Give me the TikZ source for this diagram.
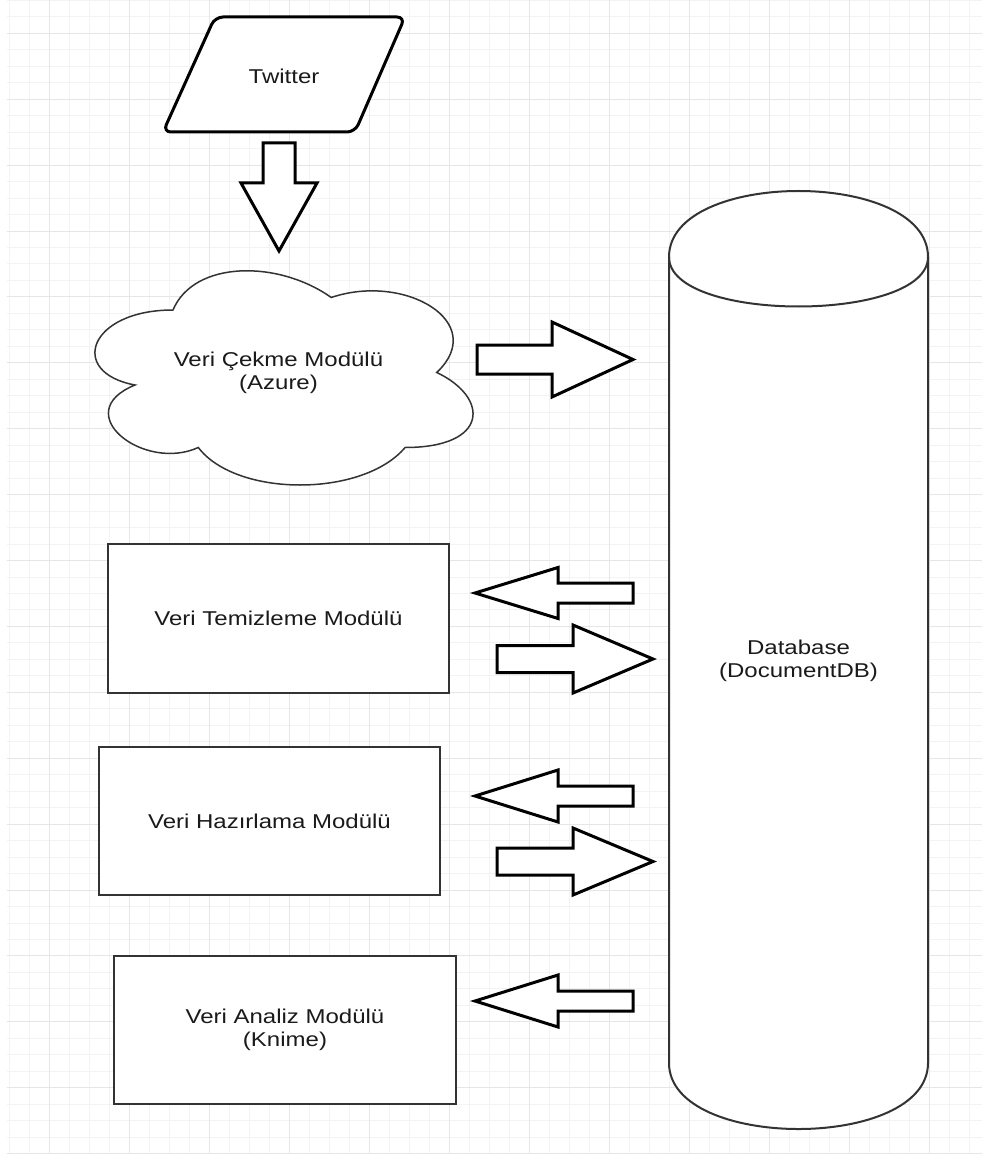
\documentclass[tikz,border=0pt]{standalone}
\usepackage{fontspec}
\setmainfont[FakeStretch=1.2]{Liberation Sans}
\usepackage{xcolor}
\usepackage{tikz}
\usetikzlibrary{positioning, arrows.meta}
\definecolor{gMinor}{HTML}{F3F3F3}
\definecolor{gMajor}{HTML}{E6E6E6}
\definecolor{nInk}{HTML}{333333}
\definecolor{tInk}{HTML}{1A1A1A}
\tikzset{
  minorgrid/.style={draw=gMinor, line width=1pt},
  majorgrid/.style={draw=gMajor, line width=1pt},
  lbl/.style={font=\fontsize{20}{23}\selectfont, text=tInk, align=center, inner sep=0pt},
  modbox/.style={lbl, draw=nInk, line width=2pt, fill=white,
    minimum width=341pt, minimum height=148pt},
  blockarrow/.style={draw=black, line width=3pt, fill=white, line join=miter},
}
% horizontal block arrow: tail x, head base x, tip x, centre y, shaft half, head half
\newcommand{\hblock}[6]{%
  \draw[blockarrow] (#1,#4-#5) -- (#2,#4-#5) -- (#2,#4-#6) -- (#3,#4)
    -- (#2,#4+#6) -- (#2,#4+#5) -- (#1,#4+#5) -- cycle;}

\begin{document}
\begin{tikzpicture}[x=1pt, y=-1pt]
  \useasboundingbox (0,0) rectangle (982,1155);
  \fill[white] (0,0) rectangle (982,1155);
  % grid
  \foreach \i in {0,...,48} \draw[minorgrid] ({9.3+20*\i},0) -- ({9.3+20*\i},1154);
  \foreach \j in {0,...,70} \draw[minorgrid] (6.5,{0.4+16.475*\j}) -- (982,{0.4+16.475*\j});
  \foreach \i in {0,...,11} \draw[majorgrid] ({49.3+80*\i},0) -- ({49.3+80*\i},1154);
  \foreach \j in {0,...,17} \draw[majorgrid] (6.5,{33.35+65.9*\j}) -- (982,{33.35+65.9*\j});

  % twitter source
  \draw[line width=3pt, fill=white, rounded corners=8pt]
    (215,17) -- (405,17) -- (355,132) -- (163,132) -- cycle;
  \node[lbl] (tw) at (284,76) {Twitter};
  \draw[blockarrow] (263,143) -- (295,143) -- (295,183) -- (317,183)
    -- (279,251) -- (241,183) -- (263,183) -- cycle;

  % cloud module
  \begin{scope}[shift={(67.5,247.5)}, xscale=422, yscale=250]
    \draw[nInk, line width=1.5pt, fill=white] (0.25,0.25)
      .. controls (0.05,0.25) and (0,0.5) .. (0.16,0.55)
      .. controls (0,0.66) and (0.18,0.9) .. (0.31,0.8)
      .. controls (0.4,1) and (0.7,1) .. (0.8,0.8)
      .. controls (1,0.8) and (1,0.6) .. (0.875,0.5)
      .. controls (1,0.3) and (0.8,0.1) .. (0.625,0.2)
      .. controls (0.5,0.05) and (0.3,0.05) .. (0.25,0.25) -- cycle;
  \end{scope}
  \node[lbl] (vcm) at (278.5,373) {Veri Çekme Modülü\\(Azure)};

  % database
  \draw[nInk, line width=2pt, fill=white]
    (669,257) .. controls (669,169) and (928,169) .. (928,257) -- (928,1063)
    .. controls (928,1151) and (669,1151) .. (669,1063) -- cycle;
  \draw[nInk, line width=2pt] (669,257) .. controls (669,323) and (928,323) .. (928,257);
  \node[lbl] (db) at (798.5,661) {Database\\(DocumentDB)};

  % modules
  \node[modbox, minimum height=149pt] (vtm) at (278.5,618.5) {Veri Temizleme Modülü};
  \node[modbox] (vhm) at (269.5,821) {Veri Hazırlama Modülü};
  \node[modbox, minimum width=342pt] (vam) at (285,1030) {Veri Analiz Modülü\\(Knime)};

  % block arrows
  \hblock{477}{552}{633}{359.5}{14.5}{37.5}
  \hblock{633}{558}{475}{593}{10}{25.5}
  \hblock{497}{573}{653}{659}{13.5}{34}
  \hblock{633}{558}{475}{796}{10}{26}
  \hblock{497}{573}{653}{861.5}{13.5}{33.5}
  \hblock{633}{558}{475}{1001}{10}{26}
\end{tikzpicture}
\end{document}
